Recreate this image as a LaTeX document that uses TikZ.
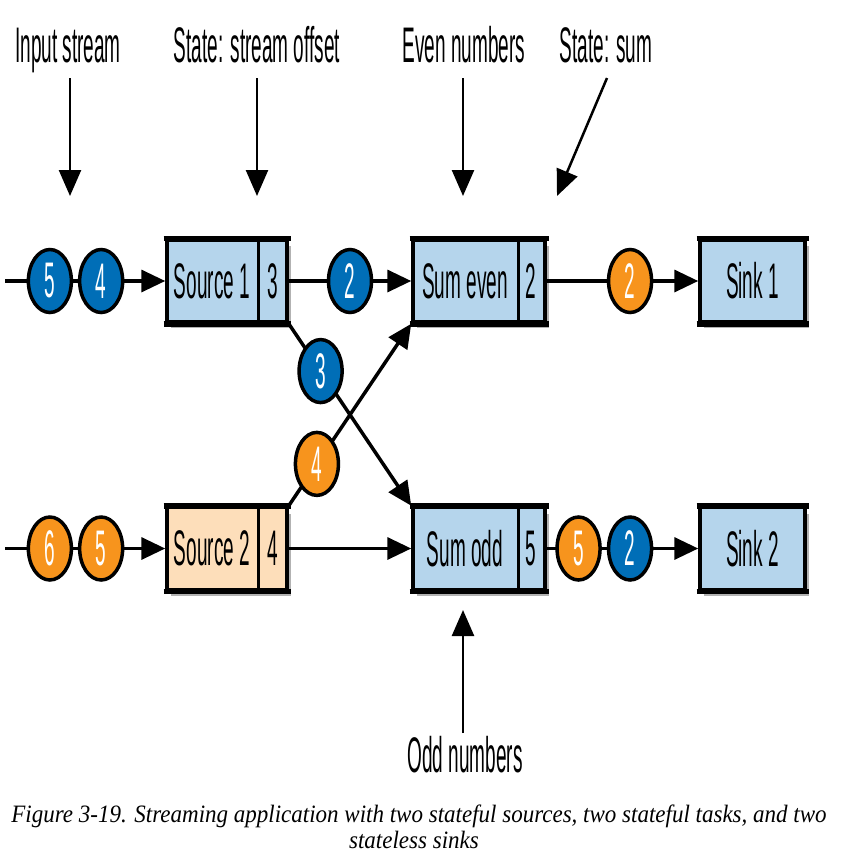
\documentclass[tikz,border=0pt]{standalone}
\usepackage{fontspec}
\setmainfont{Liberation Serif}
\newfontfamily\cond[FakeStretch=0.38]{Liberation Sans}
\newfontfamily\capfont[FakeStretch=0.92]{Liberation Serif}
\usetikzlibrary{arrows.meta,shapes.geometric,shadows,calc}
\definecolor{cblue}{RGB}{0,110,183}
\definecolor{corange}{RGB}{247,148,29}
\definecolor{lblue}{RGB}{181,213,236}
\definecolor{peach}{RGB}{253,222,186}
\tikzset{
  box/.style={draw=black, line width=3.5pt, minimum height=82pt, inner sep=0pt,
    drop shadow={shadow xshift=4pt, shadow yshift=-6pt, opacity=0.3, fill=black}},
  lbl/.style={font=\cond\fontsize{50}{60}\selectfont, inner sep=0pt},
  dot/.style={ellipse, draw=black, line width=3.5pt, minimum width=43pt, minimum height=63pt,
    inner sep=0pt, text=white, font=\cond\fontsize{50}{60}\selectfont},
  bdot/.style={dot, fill=cblue},
  odot/.style={dot, fill=corange},
  conn/.style={line width=3.5pt, -{Triangle[length=24pt,width=22pt]}},
  pointer/.style={line width=2.5pt, -{Triangle[length=26pt,width=22pt]}},
  divider/.style={line width=3pt},
  edge/.style={line width=5.5pt}
}
\begin{document}
\begin{tikzpicture}[x=1pt,y=-1pt]
\useasboundingbox (0,0) rectangle (852,868);

% top labels
\node[lbl, anchor=base] (linput) at (68,62) {Input stream};
\node[lbl, anchor=base] (lstate1) at (257,62) {State: stream offset};
\node[lbl, anchor=base] (leven) at (464,62) {Even numbers};
\node[lbl, anchor=base] (lstate2) at (606,62) {State: sum};
\node[lbl, anchor=base] (lodd) at (465,772) {Odd numbers};

\coordinate (pa1) at (70,78);  \coordinate (pb1) at (70,196);
\coordinate (pa2) at (257,78); \coordinate (pb2) at (257,196);
\coordinate (pa3) at (463,78); \coordinate (pb3) at (463,196);
\coordinate (pa4) at (607,78); \coordinate (pb4) at (557,196);
\coordinate (pa5) at (463,733); \coordinate (pb5) at (463,610);
\draw[pointer] (pa1) -- (pb1);
\draw[pointer] (pa2) -- (pb2);
\draw[pointer] (pa3) -- (pb3);
\draw[pointer] (pa4) -- (pb4);
\draw[pointer] (pa5) -- (pb5);

% boxes
\node[box, fill=lblue, minimum width=120pt] (s1) at (227,281) {};
\node[box, fill=peach, minimum width=120pt] (s2) at (227,548.5) {};
\node[box, fill=lblue, minimum width=132pt] (se) at (479,281) {};
\node[box, fill=lblue, minimum width=132pt] (so) at (479,548.5) {};
\node[box, fill=lblue, minimum width=105pt] (k1) at (752.5,281) {};
\node[box, fill=lblue, minimum width=105pt] (k2) at (752.5,548.5) {};

\foreach \b in {s1,s2,se,so,k1,k2}{
  \draw[edge] ([xshift=-1.75pt]\b.north west) -- ([xshift=1.75pt]\b.north east);
  \draw[edge] ([xshift=-1.75pt]\b.south west) -- ([xshift=1.75pt]\b.south east);
}

\draw[divider] ($(s1.north west)!0.758!(s1.north east)$) -- ($(s1.south west)!0.758!(s1.south east)$);
\draw[divider] ($(s2.north west)!0.758!(s2.north east)$) -- ($(s2.south west)!0.758!(s2.south east)$);
\draw[divider] ($(se.north west)!0.788!(se.north east)$) -- ($(se.south west)!0.788!(se.south east)$);
\draw[divider] ($(so.north west)!0.788!(so.north east)$) -- ($(so.south west)!0.788!(so.south east)$);

\node[lbl] (s1t) at (212,281) {Source 1};
\node[lbl] (s1v) at (272.5,281) {3};
\node[lbl] (s2t) at (212,548.5) {Source 2};
\node[lbl] (s2v) at (272.5,548.5) {4};
\node[lbl] (set) at (465,281) {Sum even};
\node[lbl] (sev) at (531,281) {2};
\node[lbl] (sot) at (465,548.5) {Sum odd};
\node[lbl] (sov) at (531,548.5) {5};
\node[lbl] (k1t) at (752.5,281) {Sink 1};
\node[lbl] (k2t) at (752.5,548.5) {Sink 2};

% connectors
\coordinate (in1) at (5,281);
\coordinate (in2) at (5,548.5);
\draw[conn] (in1) -- (s1.west)
  node[bdot, pos=0.28] (c15) {5} node[bdot, pos=0.6] (c14) {4};
\draw[conn] (in2) -- (s2.west)
  node[odot, pos=0.28] (c26) {6} node[odot, pos=0.6] (c25) {5};
\draw[conn] (s1.east) -- (se.west) node[bdot, midway] (m2) {2};
\draw[conn] (s2.east) -- (so.west);
\draw[conn] (s1.south east) -- (so.north west) node[bdot, pos=0.26] (m3) {3};
\draw[conn] (s2.north east) -- (se.south west) node[odot, pos=0.23] (m4) {4};
\draw[conn] (se.east) -- (k1.west) node[odot, pos=0.55] (o2) {2};
\draw[conn] (so.east) -- (k2.west)
  node[odot, pos=0.21] (o5) {5} node[bdot, pos=0.55] (o22) {2};

% caption
\node[font=\capfont\itshape\fontsize{25}{29}\selectfont, inner sep=0pt, anchor=base] (cap1) at (419,822)
  {Figure 3-19. Streaming application with two stateful sources, two stateful tasks, and two};
\node[font=\capfont\itshape\fontsize{25}{29}\selectfont, inner sep=0pt, anchor=base] (cap2) at (414,848)
  {stateless sinks};
\end{tikzpicture}
\end{document}
